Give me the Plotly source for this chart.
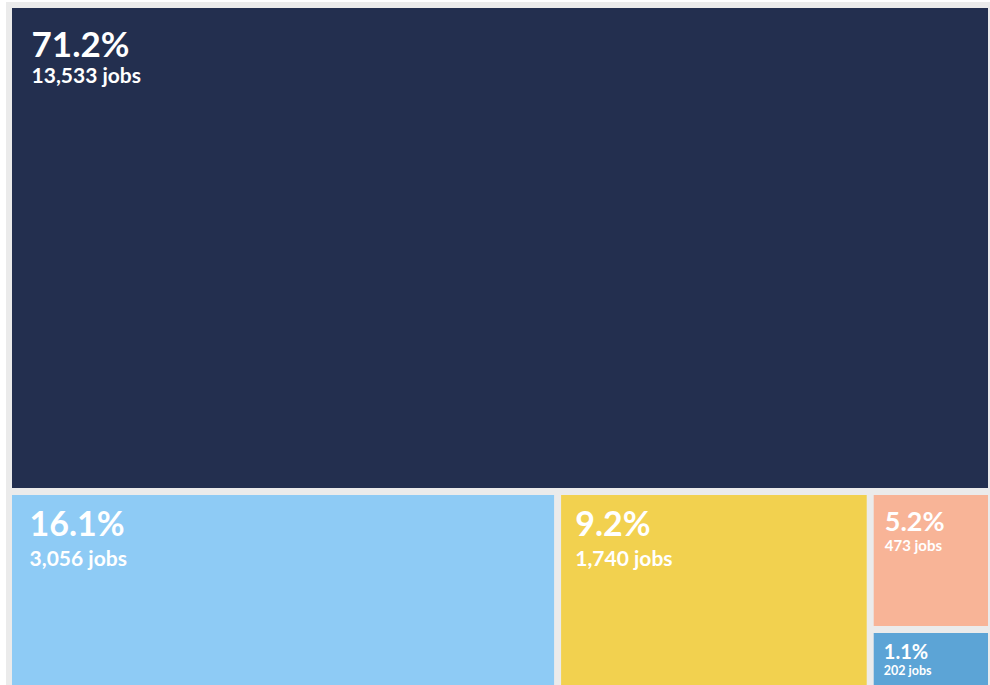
import plotly.graph_objects as go

# ---- data ----
ids = ["Top", "Rest", "LB", "Yellow", "Small", "Salmon", "Blue"]
parents = ["", "", "Rest", "Rest", "Rest", "Small", "Small"]
jobs = [13533, 0, 3056, 1740, 0, 473, 202]
pct_labels = ["71.2%", "", "16.1%", "9.2%", "", "5.2%", "1.1%"]
colors = ["#232f4f", "#ebebeb", "#8ecbf5", "#f2d14f", "#ebebeb", "#f8b497", "#5ca4d6"]

# text styling per tile
pct_sizes = [35, 0, 34, 34, 0, 27, 20]
job_sizes = [21, 0, 21, 21, 0, 15, 12.5]
base_sizes = [20, 12, 23, 23, 12, 15, 12.5]
spacer_big = [47, 0, 38, 38, 0, 33, 23]     # sets top offset
spacer_small = [21, 0, 22, 8, 0, 0, 6]      # fine-tunes left offset

texts = []
for p, j, ps, js, fb, fs in zip(pct_labels, jobs, pct_sizes, job_sizes, spacer_big, spacer_small):
    if p:
        sp = f"<span style='font-size:{fb}px'>&nbsp;</span>"
        if fs:
            sp += f"<span style='font-size:{fs}px'>&nbsp;</span>"
        texts.append(
            f"<b>{sp}<span style='font-size:{ps}px'>{p}</span><br>"
            f"{sp}<span style='font-size:{js}px'>{j:,} jobs</span></b>"
        )
    else:
        texts.append("")

fig = go.Figure(
    go.Treemap(
        ids=ids,
        labels=ids,
        parents=parents,
        values=jobs,
        branchvalues="remainder",
        text=texts,
        texttemplate="%{text}",
        textposition="top left",
        textfont=dict(family="Lato", color="white", size=base_sizes),
        marker=dict(colors=colors, line=dict(width=0), pad=dict(t=0, l=0, r=0, b=0)),
        tiling=dict(packing="dice-slice", pad=7),
        pathbar=dict(visible=False),
        sort=False,
        hoverinfo="skip",
        domain=dict(x=[6 / 984, 982 / 984], y=[0, 1 - 6 / 683]),
    )
)

fig.update_layout(
    width=990,
    height=685,
    margin=dict(l=6, r=0, t=2, b=0),
    paper_bgcolor="white",
    shapes=[
        dict(type="rect", xref="paper", yref="paper", x0=0, x1=1, y0=0, y1=1,
             fillcolor="#ebebeb", line=dict(width=0), layer="below")
    ],
)

fig.write_html(
    "out.html",
    config={"displayModeBar": False},
    post_script="document.body.style.margin='0';",
)
